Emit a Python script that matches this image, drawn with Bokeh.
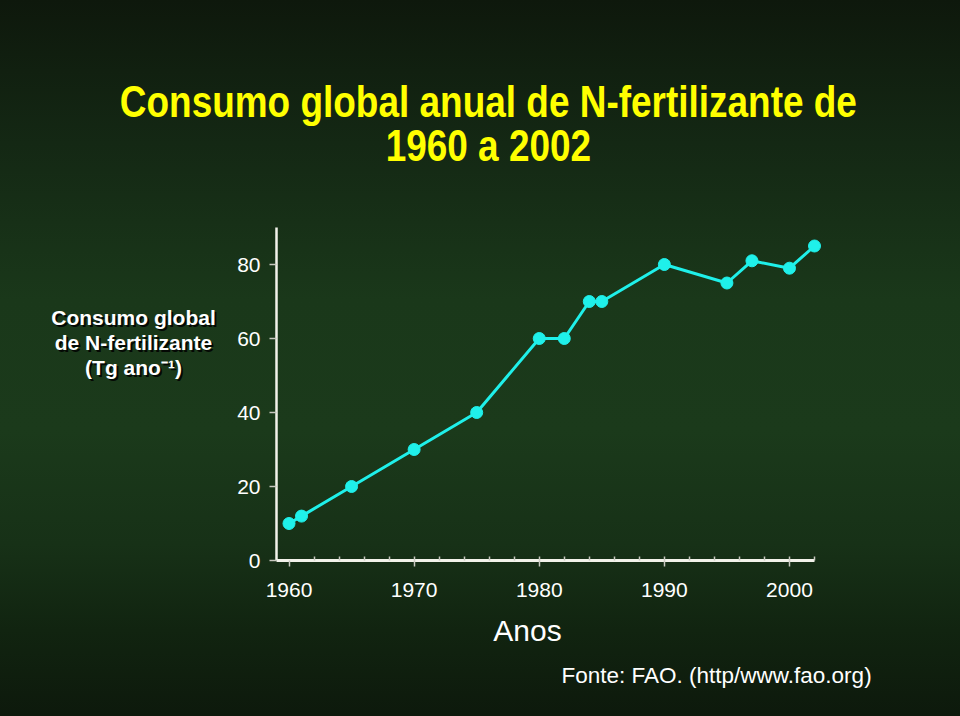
from bokeh.plotting import figure
from bokeh.layouts import column, row
from bokeh.models import FixedTicker, Label, GlobalInlineStyleSheet, InlineStyleSheet, Range1d
from bokeh.embed import file_html
from bokeh.resources import INLINE

# ---- data ----
years = [1960, 1961, 1965, 1970, 1975, 1980, 1982, 1984, 1985, 1990, 1995, 1997, 2000, 2002]
consumo = [10, 12, 20, 30, 40, 60, 60, 70, 70, 80, 75, 81, 79, 85]
x_major_ticks = [1960, 1970, 1980, 1990, 2000]
x_minor_ticks = list(range(1962, 2003, 2))
y_ticks = [0, 20, 40, 60, 80]

title_lines = ["Consumo global anual de N-fertilizante de", "1960 a 2002"]
ylabel_lines = ["Consumo global", "de N-fertilizante", "(Tg ano\u207b\u00b9)"]
xlabel = "Anos"
source_note = "Fonte: FAO. (http/www.fao.org)"

# ---- page layout (pixels) ----
W = 944
TOP_H = 200          # title strip
MID_H = 410          # plot strip
BOT_H = 90           # bottom strip
LEFT_W = 220         # y-label strip
FRAME_L, FRAME_T, FRAME_B = 276, 227, 560
AXIS_END_PX = 814    # where the year 2002 sits
FRAME_R = 830        # a little room so the last marker is not clipped
X0, X_AXIS_END = 1959, 2002
X1 = X0 + (FRAME_R - FRAME_L) * (X_AXIS_END - X0) / (AXIS_END_PX - FRAME_L)
TITLE_SCALE = 0.84   # condensed title face

bg = GlobalInlineStyleSheet(css="""
html { height: 100%; overflow: hidden; background: linear-gradient(to bottom,
  #0e180c 0%, #142814 20%, #1a381a 42%, #1b3a1b 60%, #173117 76%, #112410 88%, #0d190c 100%) no-repeat; }
body { background: transparent; }
""")
condense = InlineStyleSheet(css=f"""
:host {{ overflow: visible; }}
.bk-Canvas {{ width: {W / TITLE_SCALE:.1f}px !important;
  transform: scaleX({TITLE_SCALE}); transform-origin: {W / 2}px 50%; }}
""")


def text_fig(w, h, yr=None):
    f = figure(width=w, height=h, x_range=Range1d(0, w),
               y_range=yr if yr is not None else Range1d(h, 0),
               x_axis_type=None, y_axis_type=None,
               output_backend="svg", toolbar_location=None,
               min_border=0, min_border_left=0, min_border_right=0,
               min_border_top=0, min_border_bottom=0)
    f.grid.visible = False
    f.outline_line_color = None
    f.border_fill_color = None
    f.background_fill_color = None
    return f


def add_text(f, text, x, y, size, color="#ffffff", font="Liberation Sans",
             style="normal", align="center", shadow=False):
    if shadow:
        f.add_layout(Label(x=x + 2, y=y + 2, text=text, text_font=font,
                           text_font_size=size, text_font_style=style,
                           text_color="#000000", text_alpha=0.85,
                           text_align=align, text_baseline="middle"))
    f.add_layout(Label(x=x, y=y, text=text, text_font=font,
                       text_font_size=size, text_font_style=style,
                       text_color=color, text_align=align,
                       text_baseline="middle"))


# ---- title strip ----
top = text_fig(W, TOP_H)
top.stylesheets = [bg, condense]
tx = W / 2 + (488 - W / 2) / TITLE_SCALE
add_text(top, title_lines[0], tx, 101, "44px", color="#ffff00", style="bold")
add_text(top, title_lines[1], tx, 145, "44px", color="#ffff00", style="bold")

# ---- y-label strip (its frame is aligned with the plot frame in the row) ----
left = text_fig(LEFT_W, MID_H, yr=Range1d(FRAME_B, FRAME_T))
for i, t in enumerate(ylabel_lines):
    add_text(left, t, 133, 317 + 25 * i, "21px", style="bold", shadow=True)

# ---- main plot ----
p = figure(width=W - LEFT_W, height=MID_H, x_range=(X0, X1), y_range=(0, 90),
           output_backend="svg", toolbar_location=None,
           min_border_left=FRAME_L - LEFT_W, min_border_right=W - FRAME_R,
           min_border_top=FRAME_T - TOP_H, min_border_bottom=TOP_H + MID_H - FRAME_B)
p.border_fill_color = None
p.background_fill_color = None
p.outline_line_color = None
p.grid.visible = False

xa = p.xaxis[0]
xa.bounds = (X0, X_AXIS_END)
xa.ticker = FixedTicker(ticks=x_major_ticks, minor_ticks=x_minor_ticks)
xa.axis_line_color = "#f2f2ea"
xa.axis_line_width = 3
xa.major_tick_in = 0
xa.major_tick_out = 6
xa.major_tick_line_color = "#c8c8c0"
xa.major_tick_line_width = 1.5
xa.minor_tick_in = 4
xa.minor_tick_out = 0
xa.minor_tick_line_color = "#c8c8c0"
xa.minor_tick_line_width = 1.5
xa.major_label_text_font = "Liberation Sans"
xa.major_label_text_font_size = "21px"
xa.major_label_text_color = "#ffffff"
xa.major_label_standoff = 16

ya = p.yaxis[0]
ya.ticker = FixedTicker(ticks=y_ticks)
ya.axis_line_color = "#f2f2ea"
ya.axis_line_width = 2.5
ya.major_tick_in = 0
ya.major_tick_out = 7
ya.major_tick_line_color = "#c8c8c0"
ya.major_tick_line_width = 1.5
ya.minor_tick_line_color = None
ya.major_label_text_font = "Liberation Sans"
ya.major_label_text_font_size = "21px"
ya.major_label_text_color = "#ffffff"
ya.major_label_standoff = 9

p.line(years, consumo, line_color="#1ff0ea", line_width=3)
p.scatter(years, consumo, size=12, fill_color="#1ff0ea", line_color="#1ff0ea")

# ---- bottom strip ----
bot = text_fig(W, BOT_H)
y0 = TOP_H + MID_H
add_text(bot, xlabel, 527, 630 - y0, "30px")
add_text(bot, source_note, 561, 675 - y0, "22.5px", align="left")

layout = column(top, row(left, p, spacing=0), bot, spacing=0)
open("out.html", "w").write(file_html(layout, INLINE))
